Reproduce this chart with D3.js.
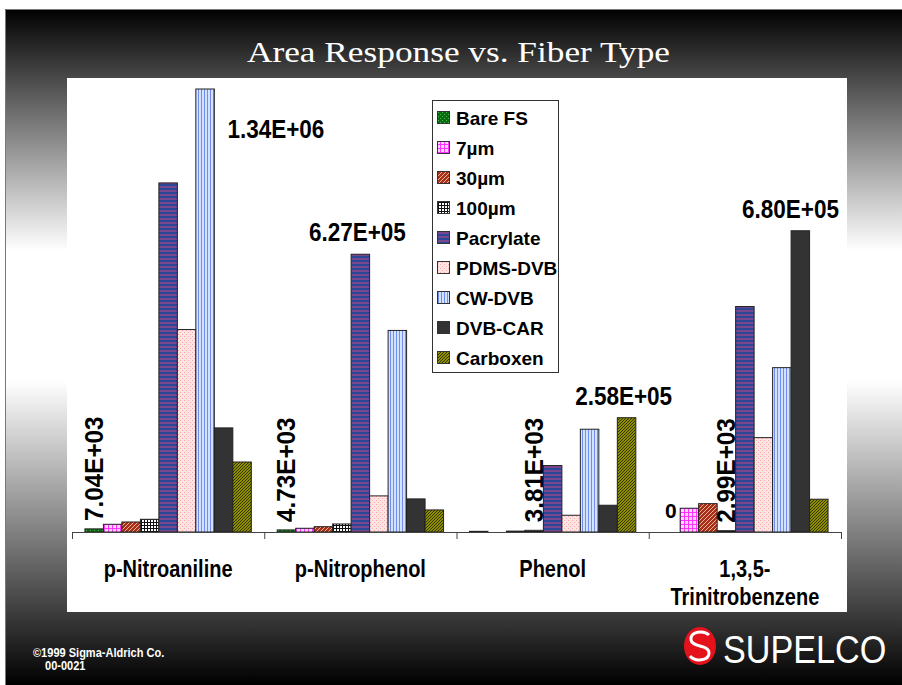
<!DOCTYPE html>
<html>
<head>
<meta charset="utf-8">
<title>Area Response vs. Fiber Type</title>
<script src="https://cdnjs.cloudflare.com/ajax/libs/d3/7.8.5/d3.min.js"></script>
<style>
  body { margin: 0; background: #fff; }
  svg { display: block; }
  text { font-family: "Liberation Sans", Arial, sans-serif; }
</style>
</head>
<body>
<svg id="svg" width="902" height="685"></svg>
<script>
const categories = ['p-Nitroaniline', 'p-Nitrophenol', 'Phenol', '1,3,5-Trinitrobenzene']
const categoryLines = [['p-Nitroaniline'], ['p-Nitrophenol'], ['Phenol'], ['1,3,5-', 'Trinitrobenzene']]
const fibers = ['Bare FS', '7µm', '30µm', '100µm', 'Pacrylate', 'PDMS-DVB', 'CW-DVB', 'DVB-CAR', 'Carboxen']

// one array per fiber, values in category order
const bareFS    = [7040, 4730, 1500, 0]
const um7       = [17400, 8400, 0, 53600]
const um30      = [22600, 12000, 2000, 64000]
const um100     = [28700, 18100, 3810, 2990]
const pacrylate = [788000, 627000, 150000, 509000]
const pdmsDvb   = [457000, 81500, 37800, 213000]
const cwDvb     = [1340000, 455000, 232000, 371000]
const dvbCar    = [235000, 74700, 60400, 680000]
const carboxen  = [158000, 49800, 258000, 74000]
const yMax = 1000000

// bars that carry a value label: [category, fiber, rotated]
const labelled = [[0, 0, true], [0, 6, false], [1, 0, true], [1, 4, false],
  [2, 3, true], [2, 8, false], [3, 0, false], [3, 3, true], [3, 7, false]]

const series = [bareFS, um7, um30, um100, pacrylate, pdmsDvb, cwDvb, dvbCar, carboxen]
const rows = []
categories.forEach((c, ci) => fibers.forEach((f, fi) => rows.push({c, ci, f, fi, v: series[fi][ci]})))

const svg = d3.select('#svg')
const defs = svg.append('defs')

// background gradient of the slide
const grad = defs.append('linearGradient').attr('id', 'bg')
  .attr('x1', 0).attr('y1', 0).attr('x2', 0).attr('y2', 1)
grad.selectAll('stop')
  .data([[0, '#000'], [0.357, '#fff'], [0.55, '#fff'], [1, '#000']])
  .enter().append('stop')
  .attr('offset', d => d[0]).attr('stop-color', d => d[1])

function pattern(id, w, h, bg, draw) {
  const p = defs.append('pattern').attr('id', id)
    .attr('patternUnits', 'userSpaceOnUse').attr('width', w).attr('height', h)
  p.append('rect').attr('width', w).attr('height', h).attr('fill', bg)
  draw(p)
}
pattern('f0', 4, 4, '#0b6b12', p => {
  p.append('rect').attr('x', 0).attr('y', 0).attr('width', 1).attr('height', 1).attr('fill', '#4cb84c')
  p.append('rect').attr('x', 2).attr('y', 2).attr('width', 1).attr('height', 1).attr('fill', '#4cb84c')
})
pattern('f1', 4, 4, '#ffd6ff', p => {
  p.append('rect').attr('width', 4).attr('height', 1).attr('fill', '#ff33ff')
  p.append('rect').attr('width', 1).attr('height', 4).attr('fill', '#ff33ff')
})
pattern('f2', 4, 4, '#a8301a', p => {
  p.append('path').attr('d', 'M0,4L4,0M-1,1L1,-1M3,5L5,3').attr('stroke', '#f2b496').attr('stroke-width', 1)
})
pattern('f3', 3, 3, '#fff', p => {
  p.append('rect').attr('width', 3).attr('height', 1).attr('fill', '#111')
  p.append('rect').attr('width', 1).attr('height', 3).attr('fill', '#111')
})
pattern('f4', 4, 4, '#2b4898', p => {
  p.append('rect').attr('y', 2).attr('width', 4).attr('height', 2).attr('fill', '#7a468e')
})
pattern('f5', 4, 4, '#ffe4e4', p => {
  p.append('rect').attr('x', 0).attr('y', 0).attr('width', 1).attr('height', 1).attr('fill', '#f4a8a8')
  p.append('rect').attr('x', 2).attr('y', 2).attr('width', 1).attr('height', 1).attr('fill', '#f4a8a8')
})
pattern('f6', 3, 3, '#d4e2ff', p => {
  p.append('rect').attr('width', 1).attr('height', 3).attr('fill', '#6f8ff0')
})
pattern('f7', 4, 4, '#333333', p => {})
pattern('f8', 3, 3, '#b4b400', p => {
  p.append('path').attr('d', 'M0,3L3,0M-1,1L1,-1M2,4L4,2').attr('stroke', '#2e2e00').attr('stroke-width', 1.1)
})
const fill = fi => `url(#f${fi})`

// slide frame
svg.append('rect').attr('x', 5).attr('y', 9).attr('width', 897).attr('height', 676).attr('fill', 'url(#bg)')
svg.append('path').attr('d', 'M5.5,685V9.5H902').attr('fill', 'none').attr('stroke', '#777')
svg.append('rect').attr('x', 67).attr('y', 78).attr('width', 780).attr('height', 534).attr('fill', '#fff')

svg.append('text')
  .attr('x', 458.5).attr('y', 62)
  .attr('text-anchor', 'middle')
  .attr('textLength', 423).attr('lengthAdjust', 'spacingAndGlyphs')
  .style('font-family', '"Liberation Serif", "Times New Roman", serif')
  .style('font-size', '30px').attr('fill', '#fff')
  .text('Area Response vs. Fiber Type')

// scales
const x0 = d3.scaleBand().domain(categories).range([72, 841])
const x1 = d3.scaleBand().domain(fibers).range([0, x0.bandwidth()]).paddingOuter(0.7)
const y = d3.scaleLinear().domain([0, yMax]).range([532, 89])
const xEdge = d3.scaleLinear().domain([0, categories.length]).range(x0.range())

// bars
svg.append('g').selectAll('rect')
  .data(rows.filter(d => d.v > 0))
  .enter().append('rect')
  .attr('x', d => x0(d.c) + x1(d.f))
  .attr('y', d => y(Math.min(d.v, yMax)))
  .attr('width', x1.bandwidth())
  .attr('height', d => y(0) - y(Math.min(d.v, yMax)))
  .attr('fill', d => fill(d.fi))
  .attr('stroke', '#222').attr('stroke-width', 1)

// axis
const axis = svg.append('g')
  .attr('transform', `translate(0,${y(0)})`)
  .call(d3.axisBottom(xEdge).ticks(categories.length).tickSize(7).tickSizeOuter(0).tickFormat(''))
axis.selectAll('path, line').attr('stroke', '#444')

// category names
svg.append('g').selectAll('text')
  .data(categoryLines)
  .enter().append('text')
  .attr('transform', (d, i) => `translate(${x0(categories[i]) + x0.bandwidth() / 2},577) scale(1,1.15)`)
  .attr('text-anchor', 'middle')
  .style('font-size', '20px').style('font-weight', 'bold')
  .selectAll('tspan')
  .data(d => d)
  .enter().append('tspan')
  .attr('x', 0).attr('dy', (d, i) => i ? 24 : 0)
  .text(d => d)

// value labels
function sci(v) {
  if (v === 0) return '0'
  const [m, e] = v.toExponential(2).split('e')
  return m.toUpperCase() + 'E' + (+e < 0 ? '-' : '+') + String(Math.abs(+e)).padStart(2, '0')
}
const labelRight = 838
labelled.forEach(([ci, fi, rot]) => {
  const v = series[fi][ci]
  const bx = x0(categories[ci]) + x1(fibers[fi])
  const cx = bx + x1.bandwidth() / 2
  const top = y(Math.min(v, yMax))
  const t = sci(v)
  let g, sx = 0.9
  if (rot) {
    g = svg.append('g').attr('transform', `translate(${cx + 9},${top - 8}) rotate(-90)`)
    sx = 0.97
  } else if (v > yMax) {
    g = svg.append('g').attr('transform', `translate(${bx + x1.bandwidth() + 14 + 47.5},${top + 49})`)
  } else if (v === 0) {
    g = svg.append('g').attr('transform', `translate(${cx},${top - 14})`)
    sx = 1
  } else {
    g = svg.append('g').attr('transform', `translate(${Math.min(cx - 3, labelRight - 47.5)},${top - 13})`)
  }
  g.append('text')
    .attr('transform', `scale(${sx},1)`)
    .attr('text-anchor', rot ? 'start' : 'middle')
    .style('font-size', v === 0 ? '21px' : '25px').style('font-weight', 'bold')
    .text(t)
})

// legend
const legend = svg.append('g').attr('transform', 'translate(432,100)')
legend.append('rect').attr('x', 0.5).attr('y', 0.5).attr('width', 126).attr('height', 272)
  .attr('fill', '#fff').attr('stroke', '#333')
const item = legend.selectAll('.item')
  .data(fibers)
  .enter().append('g')
  .attr('class', 'item')
  .attr('transform', (d, i) => `translate(0,${18 + i * 30})`)
item.append('rect')
  .attr('x', 5.5).attr('y', -6.5).attr('width', 12).attr('height', 12)
  .attr('fill', (d, i) => fill(i)).attr('stroke', '#333')
item.append('text')
  .attr('x', 24).attr('y', 7)
  .style('font-size', '19px').style('font-weight', 'bold')
  .text(d => d)

// footer
const foot = svg.append('g').attr('fill', '#fff').style('font-weight', 'bold').style('font-size', '12px')
foot.append('text').attr('transform', 'translate(33,657) scale(0.92,1)').text('©1999 Sigma-Aldrich Co.')
foot.append('text').attr('transform', 'translate(45,670) scale(0.92,1)').text('00-0021')

// logo
const logo = svg.append('g').attr('transform', 'translate(700,646)')
logo.append('ellipse').attr('rx', 16).attr('ry', 19).attr('fill', '#e3121b')
logo.append('path')
  .attr('d', 'M9,-11C4,-16 -10,-15 -9,-6C-8,2 9,-2 9,7C9,15 -5,16 -10,10')
  .attr('fill', 'none').attr('stroke', '#fff').attr('stroke-width', 3)
svg.append('text')
  .attr('transform', 'translate(723,663) scale(0.9,1)')
  .attr('fill', '#fff').style('font-size', '38px')
  .text('SUPELCO')
</script>
</body>
</html>
